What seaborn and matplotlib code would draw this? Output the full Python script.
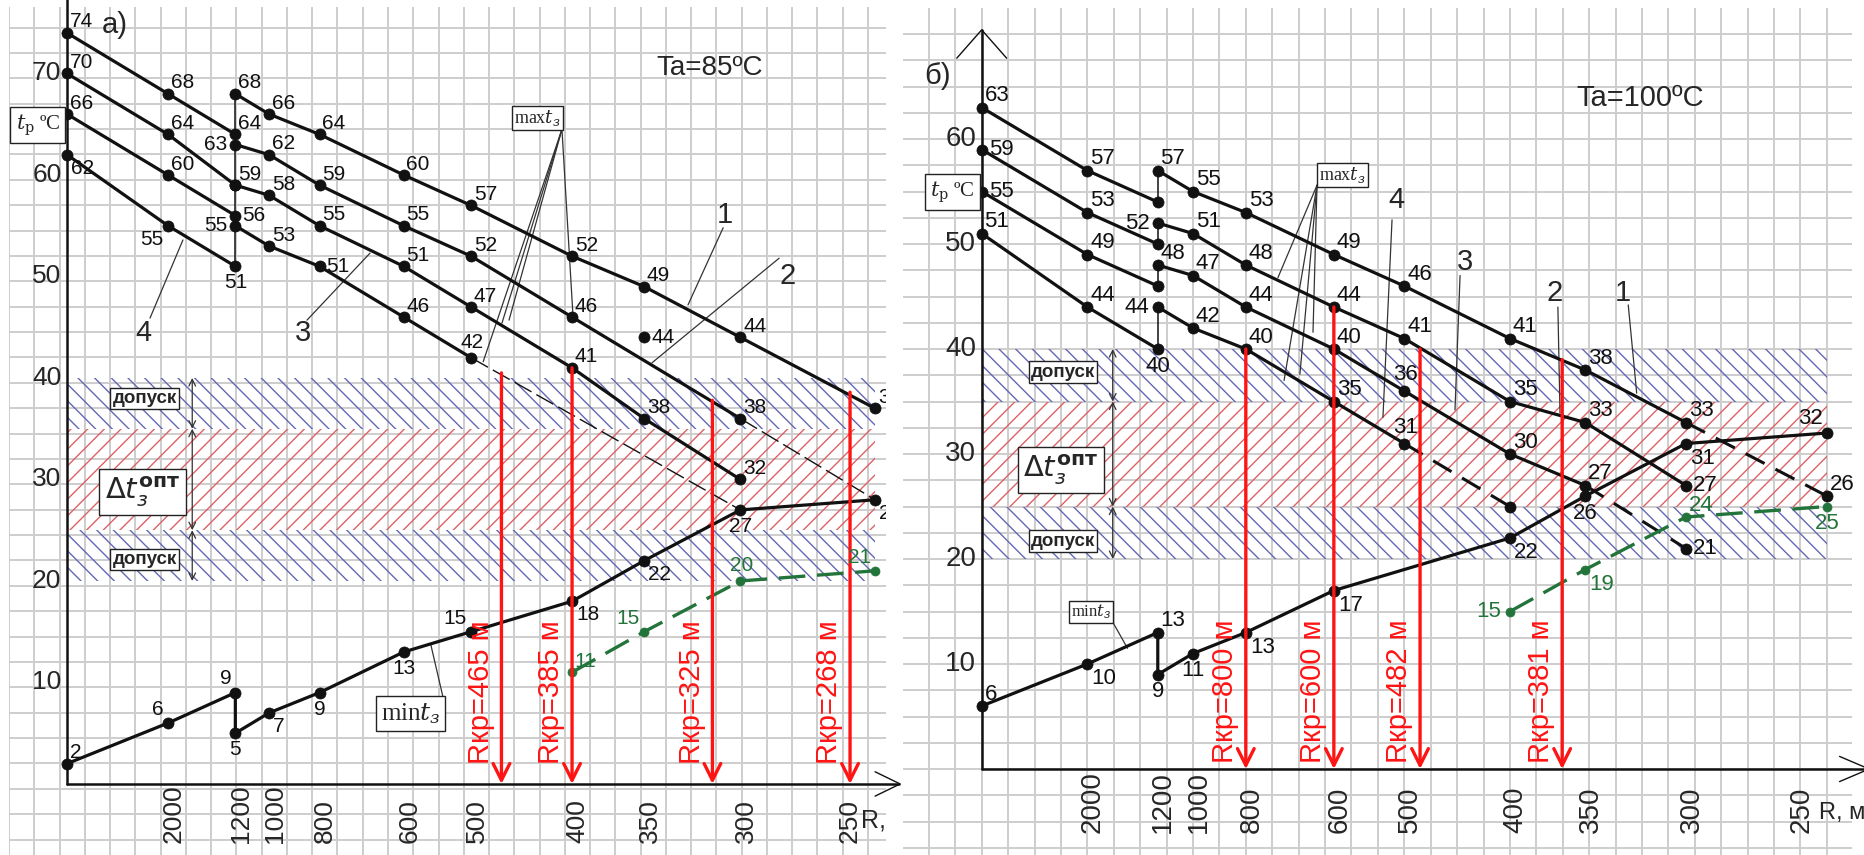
import numpy as np
import matplotlib
matplotlib.use("Agg")
import matplotlib.pyplot as plt
import seaborn as sns

INF = np.inf

# ---------------- panel a)  Ta = 85 C ----------------
A_R_STRAIGHT = [INF, 2000, 1200]
A_S1 = [74, 68, 64]
A_S2 = [70, 64, 59]
A_S3 = [66, 60, 56]
A_S4 = [62, 55, 51]
A_C1_R = [1200, 1000, 800, 600, 500, 400, 350, 300, 250]
A_C1_T = [68, 66, 64, 60, 57, 52, 49, 44, 37]
A_C2_R = [1200, 1000, 800, 600, 500, 400, 300]
A_C2_T = [63, 62, 59, 55, 52, 46, 36]
A_C2_LBL = [63, 62, 59, 55, 52, 46, 38]
A_C3_R = [1200, 1000, 800, 600, 500, 400, 350, 300]
A_C3_T = [59, 58, 55, 51, 47, 41, 36, 30]
A_C3_LBL = [59, 58, 55, 51, 47, 41, 38, 32]
A_C4_R = [1200, 1000, 800, 600, 500]
A_C4_T = [55, 53, 51, 46, 42]
A_C2_EXT_R = [300, 250]
A_C2_EXT_T = [36, 28]
A_C4_EXT_R = [500, 300]
A_C4_EXT_T = [42, 27]
A_LONE_R = [350]
A_LONE_T = [44]
A_MIN_R = [INF, 2000, 1200, 1200, 1000, 800, 600, 500, 400, 350, 300, 250]
A_MIN_T = [2, 6, 9, 5, 7, 9, 13, 15, 18, 22, 27, 28]
A_GRN_R = [400, 350, 300, 250]
A_GRN_T = [11, 15, 20, 21]
A_RKR = [465, 385, 325, 268]
A_RKR_AT = [465, 400, 313, 258]
A_RKR_TOP = [40.5, 41, 37.8, 38.6]

# ---------------- panel б)  Ta = 100 C ----------------
B_R_STRAIGHT = [INF, 2000, 1200]
B_S1 = [63, 57, 54]
B_S2 = [59, 53, 50]
B_S3 = [55, 49, 46]
B_S4 = [51, 44, 40]
B_C1_R = [1200, 1000, 800, 600, 500, 400, 350, 300]
B_C1_T = [57, 55, 53, 49, 46, 41, 38, 33]
B_C2_R = [1200, 1000, 800, 600, 500, 400, 350, 300]
B_C2_T = [52, 51, 48, 44, 41, 35, 33, 27]
B_C3_R = [1200, 1000, 800, 600, 500, 400, 350]
B_C3_T = [48, 47, 44, 40, 36, 30, 27]
B_C4_R = [1200, 1000, 800, 600, 500]
B_C4_T = [44, 42, 40, 35, 31]
B_C1_EXT_R = [300, 250]
B_C1_EXT_T = [33, 26]
B_C3_EXT_R = [350, 300]
B_C3_EXT_T = [27, 21]
B_C4_EXT_R = [500, 400]
B_C4_EXT_T = [31, 25]
B_MIN_R = [INF, 2000, 1200, 1200, 1000, 800, 600, 400, 350, 300, 250]
B_MIN_T = [6, 10, 13, 9, 11, 13, 17, 22, 26, 31, 32]
B_GRN_R = [400, 350, 300, 250]
B_GRN_T = [15, 19, 24, 25]
B_RKR = [800, 600, 482, 381]
B_RKR_AT = [800, 600, 482, 364]
B_RKR_TOP = [40, 44, 40, 39]

R_TICKS = [2000, 1200, 1000, 800, 600, 500, 400, 350, 300, 250]
A_YTICKS = [10, 20, 30, 40, 50, 60, 70]
B_YTICKS = [10, 20, 30, 40, 50, 60]
BAND_TOL_LOW = (20, 25)
BAND_OPT = (25, 35)
BAND_TOL_HIGH = (35, 40)
R_BAND_END = 250

# ---------------- label placement (style) ----------------
A_S_DIR = [['ur', 'ur', 'ur'], ['ur', 'ur', None], ['ur', 'ur', 'r'], ['dr', 'dl', 'd']]
A_C1_DIR = ['ur'] * 9
A_C2_DIR = ['l', 'ur', 'ur', 'ur', 'ur', 'ur', 'ur']
A_C3_DIR = ['ur'] * 8
A_C4_DIR = ['l', 'ur', 'r', 'ur', 'u']
A_MIN_DIR = ['ur', 'ul', 'ul', 'd', 'dr', 'd', 'd', 'ul', 'dr', 'dr', 'd', 'dr']
A_GRN_DIR = ['ur', 'ul', 'u', 'ul']

B_S_DIR = [['ur', 'ur', None], ['r', 'ur', None], ['r', 'ur', None], ['ur', 'ur', 'd']]
B_C1_DIR = ['ur'] * 8
B_C2_DIR = ['l', 'ur', 'ur', 'ur', 'ur', 'ur', 'ur', 'r']
B_C3_DIR = ['ur', 'ur', 'ur', 'ur', 'u', 'ur', 'ur']
B_C4_DIR = ['l', 'ur', 'ur', 'ur', 'u']
B_MIN_DIR = ['ur', 'dr', 'ur', 'd', 'd', 'dr', 'dr', 'dr', 'd', 'dr', 'ul']
B_GRN_DIR = ['l', 'dr', 'ur', 'd']

OFFS = {
    'ur': ((2, 1), 'left', 'bottom'),
    'u': ((1, 4), 'center', 'bottom'),
    'r': ((5, 0), 'left', 'center'),
    'dr': ((3, -3), 'left', 'top'),
    'd': ((0, -5), 'center', 'top'),
    'l': ((-6, 0), 'right', 'center'),
    'ul': ((-3, 3), 'right', 'bottom'),
    'dl': ((-3, -3), 'right', 'top'),
}

BLACK = '#111111'
GREEN = '#23743a'
RED = '#ff1414'
BLUE_H = '#6468b4'
RED_H = '#dc6266'
GRID = '#cdcdcd'

sns.set_theme(style='white')
plt.rcParams['font.family'] = ['Liberation Sans', 'DejaVu Sans']
plt.rcParams['hatch.linewidth'] = 1.0


def fx(R):
    return 1000.0 / np.asarray(R, dtype=float)


def draw_line(ax, R, T, color=BLACK, lw=2.3, ms=8.0, ls='-', marker='o', z=5):
    sns.lineplot(x=fx(R), y=np.asarray(T, dtype=float), ax=ax, sort=False, estimator=None,
                 color=color, linewidth=lw, linestyle=ls, marker=marker,
                 markersize=ms, markeredgecolor=color, markerfacecolor=color,
                 markeredgewidth=0.5, zorder=z, legend=False)


def draw_labels(ax, R, T, labels, dirs, color=BLACK, fs=15, clip=False):
    for r, t, lb, d in zip(R, T, labels, dirs):
        if d is None:
            continue
        (dx, dy), ha, va = OFFS[d]
        ax.annotate(str(lb), (1000.0 / r, t), xytext=(dx, dy), textcoords='offset points',
                    ha=ha, va=va, fontsize=fs, color=color, annotation_clip=False,
                    clip_on=clip, zorder=8)


def setup_grid(ax, xg, yg):
    ax.set_xticks([])
    ax.set_yticks([])
    ax.set_xticks(xg, minor=True)
    ax.set_yticks(yg, minor=True)
    ax.tick_params(which='both', length=0, labelbottom=False, labelleft=False)
    ax.grid(True, which='minor', color=GRID, linewidth=1.4)
    ax.set_axisbelow(True)
    for s in ax.spines.values():
        s.set_visible(False)


def bands(ax, x0, x1):
    for (lo, hi), col, hatch in [(BAND_TOL_LOW, BLUE_H, '\\\\'), (BAND_OPT, RED_H, '//'),
                                 (BAND_TOL_HIGH, BLUE_H, '\\\\')]:
        ax.add_patch(matplotlib.patches.Rectangle((x0, lo), x1 - x0, hi - lo, facecolor='none',
                                                  edgecolor=col, hatch=hatch, linewidth=0, zorder=2))


def dim_arrows(ax, x):
    for a, b in [(BAND_TOL_HIGH[1], BAND_TOL_HIGH[0]), (BAND_OPT[1], BAND_OPT[0]),
                 (BAND_TOL_LOW[1], BAND_TOL_LOW[0])]:
        ax.annotate('', xy=(x, a), xytext=(x, b),
                    arrowprops=dict(arrowstyle='<->', color='#333333', lw=0.9,
                                    shrinkA=0, shrinkB=0, mutation_scale=12), zorder=4)


def boxed(ax, x, y, s, fs, family='Liberation Sans', weight='normal', mathfam='dejavusans', pad=0.15):
    ax.text(x, y, s, ha='center', va='center', fontsize=fs, family=family, fontweight=weight,
            math_fontfamily=mathfam, zorder=9,
            bbox=dict(boxstyle=f'square,pad={pad}', fc='white', ec='#222222', lw=1.0))


def callout(ax, tx, ty, lines, s=None, fs=21):
    for (x0, y0, x1, y1) in lines:
        ax.plot([x0, x1], [y0, y1], color='#333333', lw=0.9, zorder=4)
    if s is not None:
        ax.text(tx, ty, s, ha='center', va='center', fontsize=fs, zorder=9)


def panel(ax, d):
    for s_vals, s_dir in zip(d['S'], d['S_DIR']):
        draw_line(ax, d['R_ST'], s_vals)
        draw_labels(ax, d['R_ST'], s_vals, s_vals, s_dir, fs=d['fs'], clip=d['clip'])
    for R, T, L, D in d['C']:
        draw_line(ax, R, T)
        draw_labels(ax, R, T, L, D, fs=d['fs'], clip=d['clip'])
    for R, T, lw, ls, end_lbl, end_dir in d['EXT']:
        draw_line(ax, R, T, lw=lw, ls=ls, marker=None, z=4)
        if end_lbl is not None or end_dir == 'pt':
            draw_line(ax, R[-1:], T[-1:], marker='o')
        if end_lbl is not None:
            draw_labels(ax, R[-1:], T[-1:], [end_lbl], [end_dir], fs=d['fs'], clip=d['clip'])
    draw_line(ax, d['MIN_R'], d['MIN_T'])
    draw_labels(ax, d['MIN_R'], d['MIN_T'], d['MIN_T'], d['MIN_DIR'], fs=d['fs'], clip=d['clip'])
    draw_line(ax, d['GRN_R'], d['GRN_T'], color=GREEN, lw=2.4, ms=6.5, ls=(0, (8, 3.5)))
    draw_labels(ax, d['GRN_R'], d['GRN_T'], d['GRN_T'], d['GRN_DIR'], color=GREEN,
                fs=d['fs'], clip=d['clip'])
    for lab, r, top in zip(d['RKR'], d['RKR_AT'], d['RKR_TOP']):
        x = 1000.0 / r
        ax.annotate('', xy=(x, 0), xytext=(x, top),
                    arrowprops=dict(arrowstyle='->', color=RED, lw=2.4, shrinkA=0, shrinkB=0,
                                    mutation_scale=30), zorder=6)
        ax.annotate(f'Rкр={lab} м', (x, d['rk_y']), xytext=(-15, 0), textcoords='offset points',
                    rotation=90, ha='center', va='center', color=RED, fontsize=21, zorder=9)
    bands(ax, 0.0, 1000.0 / R_BAND_END)
    dim_arrows(ax, 0.62)
    boxed(ax, 0.385, d['dop_y'][0], 'допуск', 13.5, weight='bold', pad=0.12)
    boxed(ax, 0.385, d['dop_y'][1], 'допуск', 13.5, weight='bold', pad=0.12)
    boxed(ax, 0.375, d['opt_y'], r'$\Delta t_{з}^{\mathbf{опт}}$', 21, mathfam='dejavusans', pad=0.2)
    ax.plot([0, 0], [0, d['yaxis_top']], color=BLACK, lw=1.8, zorder=5, clip_on=False)
    ax.plot([0, d['xaxis_end']], [0, 0], color=BLACK, lw=1.8, zorder=5, clip_on=False)
    for v in d['YT']:
        ax.annotate(str(v), (0, v), xytext=(-4, 0), textcoords='offset points', ha='right',
                    va='center', fontsize=d['tfs'], zorder=9)
    for r in R_TICKS:
        off = -18 if r == 250 else 4
        ax.annotate(str(r), (1000.0 / r, d['xt_y']), xytext=(off, 0), textcoords='offset points',
                    rotation=90, ha='center', va='bottom', fontsize=d['tfs'], zorder=9)


fig = plt.figure(figsize=(18.65, 8.55), dpi=100)
W, H = 1865.0, 855.0
axA = fig.add_axes([9 / W, 0, (886 - 9) / W, (H - 7) / H])
axB = fig.add_axes([903 / W, 0, (1852 - 903) / W, (H - 8) / H])

# ---- panel a
setup_grid(axA, np.arange(-0.286, 4.2, 0.125), np.arange(-7.98, 80, 2.5))
dA = dict(
    R_ST=A_R_STRAIGHT, S=[A_S1, A_S2, A_S3, A_S4], S_DIR=A_S_DIR,
    C=[(A_C1_R, A_C1_T, A_C1_T, A_C1_DIR), (A_C2_R, A_C2_T, A_C2_LBL, A_C2_DIR),
       (A_C3_R, A_C3_T, A_C3_LBL, A_C3_DIR), (A_C4_R, A_C4_T, A_C4_T, A_C4_DIR)],
    EXT=[(A_C2_EXT_R, A_C2_EXT_T, 1.0, (0, (14, 4)), None, None),
         (A_C4_EXT_R, A_C4_EXT_T, 1.0, (0, (14, 4)), None, None)],
    MIN_R=A_MIN_R, MIN_T=A_MIN_T, MIN_DIR=A_MIN_DIR,
    GRN_R=A_GRN_R, GRN_T=A_GRN_T, GRN_DIR=A_GRN_DIR,
    RKR=A_RKR, RKR_AT=A_RKR_AT, RKR_TOP=A_RKR_TOP, rk_y=9.0,
    dop_y=(38.0, 22.1), opt_y=28.8, yaxis_top=80, xaxis_end=4.12,
    YT=A_YTICKS, xt_y=-5.8, fs=15, tfs=19, clip=True)
panel(axA, dA)
draw_line(axA, A_LONE_R, A_LONE_T)
draw_labels(axA, A_LONE_R, A_LONE_T, A_LONE_T, ['r'], fs=15, clip=True)
axA.plot([1000 / 1200] * 2, [A_S4[-1], A_C1_T[0]], color=BLACK, lw=1.1, zorder=4)
axA.set_xlim(-0.287, 4.054)
axA.set_ylim(-7.0, 76.55)

axA.plot([4.0, 4.124, 4.0], [1.2, 0, -1.2], color=BLACK, lw=1.0, clip_on=False)
axA.text(3.93, -3.6, 'R, м', ha='left', va='center', fontsize=18, clip_on=True)
axA.text(0.238, 74.8, 'а)', ha='center', va='center', fontsize=21)
axA.text(3.18, 70.5, 'Ta=85ºC', ha='center', va='center', fontsize=20)
boxed(axA, -0.144, 64.9, r'$t_{\mathrm{p}}$ ºC', 15, family='Liberation Serif',
      mathfam='dejavuserif', pad=0.25)
boxed(axA, 2.327, 65.6, r'max$t_{з}$', 13, family='Liberation Serif', mathfam='dejavuserif',
      pad=0.12)
callout(axA, 0, 0, [(2.45, 64.5, 2.06, 41.6), (2.45, 64.5, 2.153, 45.4),
                    (2.45, 64.5, 2.188, 45.7), (2.45, 64.5, 2.505, 46.0)])
boxed(axA, 1.70, 6.9, r'min$t_{з}$', 18, family='Liberation Serif', mathfam='dejavuserif',
      pad=0.2)
callout(axA, 0, 0, [(1.87, 7.8, 1.80, 13.8)])
callout(axA, 0.376, 44.4, [(0.411, 45.9, 0.574, 53.6)], '4')
callout(axA, 1.168, 44.4, [(1.188, 45.7, 1.5, 52.3)], '3')
callout(axA, 3.257, 56.1, [(3.248, 54.8, 3.074, 47.2)], '1')
callout(axA, 3.569, 50.0, [(3.525, 51.8, 2.896, 41.5)], '2')

# ---- panel б
setup_grid(axB, np.arange(-0.375, 4.2, 0.125), np.arange(-10, 75, 2.5))
dB = dict(
    R_ST=B_R_STRAIGHT, S=[B_S1, B_S2, B_S3, B_S4], S_DIR=B_S_DIR,
    C=[(B_C1_R, B_C1_T, B_C1_T, B_C1_DIR), (B_C2_R, B_C2_T, B_C2_T, B_C2_DIR),
       (B_C3_R, B_C3_T, B_C3_T, B_C3_DIR), (B_C4_R, B_C4_T, B_C4_T, B_C4_DIR)],
    EXT=[(B_C1_EXT_R, B_C1_EXT_T, 2.2, (0, (7, 4)), B_C1_EXT_T[-1], 'ur'),
         (B_C3_EXT_R, B_C3_EXT_T, 2.2, (0, (7, 4)), B_C3_EXT_T[-1], 'r'),
         (B_C4_EXT_R, B_C4_EXT_T, 2.2, (0, (7, 4)), None, 'pt')],
    MIN_R=B_MIN_R, MIN_T=B_MIN_T, MIN_DIR=B_MIN_DIR,
    GRN_R=B_GRN_R, GRN_T=B_GRN_T, GRN_DIR=B_GRN_DIR,
    RKR=B_RKR, RKR_AT=B_RKR_AT, RKR_TOP=B_RKR_TOP, rk_y=7.4,
    dop_y=(37.8, 21.7), opt_y=28.5, yaxis_top=70.4, xaxis_end=4.18,
    YT=B_YTICKS, xt_y=-6.1, fs=16, tfs=20, clip=False)
panel(axB, dB)
for s_vals, (cR, cT) in zip([B_S1, B_S2, B_S3, B_S4],
                            [(B_C1_R, B_C1_T), (B_C2_R, B_C2_T), (B_C3_R, B_C3_T), (B_C4_R, B_C4_T)]):
    axB.plot([1000 / 1200] * 2, [s_vals[-1], cT[0]], color=BLACK, lw=1.1, zorder=4)
axB.set_xlim(-0.3725, 4.119)
axB.set_ylim(-8.19, 72.48)
axB.plot([-0.118, 0, 0.118], [67.7, 70.4, 67.7], color=BLACK, lw=1.0, clip_on=False)
axB.plot([4.06, 4.2, 4.06], [1.2, 0, -1.2], color=BLACK, lw=1.0, clip_on=False)
axB.text(3.965, -4.2, 'R, м', ha='left', va='center', fontsize=17)
axB.text(-0.21, 66.0, 'б)', ha='center', va='center', fontsize=21)
axB.text(3.115, 63.9, 'Ta=100ºC', ha='center', va='center', fontsize=21)
boxed(axB, -0.14, 54.95, r'$t_{\mathrm{p}}$ ºC', 15, family='Liberation Serif',
      mathfam='dejavuserif', pad=0.25)
boxed(axB, 1.706, 56.6, r'max$t_{з}$', 13, family='Liberation Serif', mathfam='dejavuserif',
      pad=0.12)
callout(axB, 0, 0, [(1.587, 55.6, 1.402, 46.8), (1.587, 55.6, 1.568, 41.6),
                    (1.587, 55.6, 1.506, 37.6), (1.587, 55.6, 1.431, 37.0)])
boxed(axB, 0.518, 14.95, r'min$t_{з}$', 12, family='Liberation Serif', mathfam='dejavuserif',
      pad=0.12)
callout(axB, 0, 0, [(0.62, 14.0, 0.69, 11.5)])
callout(axB, 1.965, 54.2, [(1.942, 52.3, 1.899, 33.5)], '4')
callout(axB, 2.287, 48.3, [(2.264, 47.0, 2.24, 34.2)], '3')
callout(axB, 2.713, 45.3, [(2.727, 44.0, 2.737, 33.9)], '2')
callout(axB, 3.036, 45.3, [(3.06, 44.2, 3.1, 35.8)], '1')

fig.savefig('out.png', dpi=100, facecolor='white')
